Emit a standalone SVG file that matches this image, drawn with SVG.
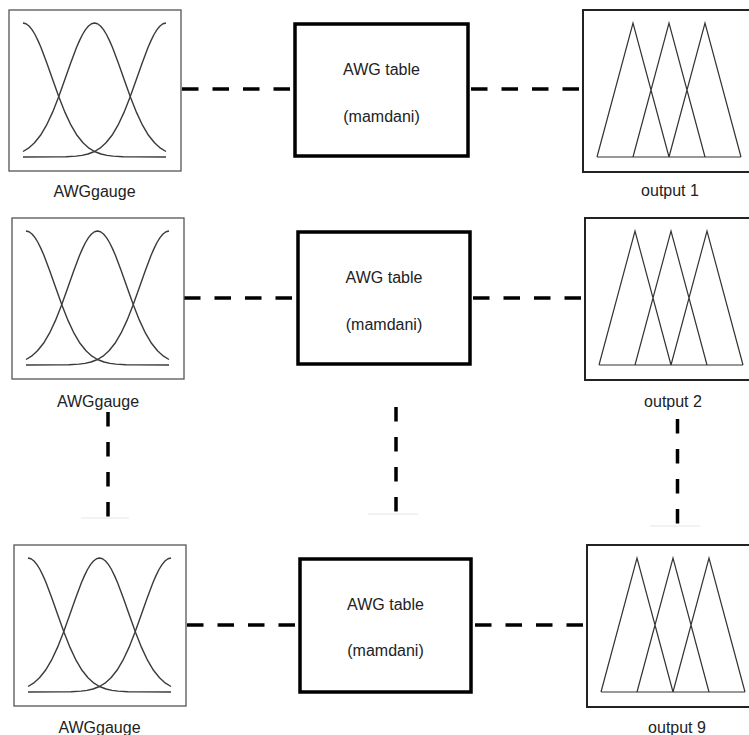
<svg xmlns="http://www.w3.org/2000/svg" xmlns:xlink="http://www.w3.org/1999/xlink" width="749" height="735" viewBox="0 0 749 735">
<style>
.in{fill:#fff;stroke:#555;stroke-width:1.3}
.crv{fill:none;stroke:#3a3a3a;stroke-width:1.4;stroke-linejoin:round}
.rule{fill:#fff;stroke:#000;stroke-width:3.5}
.out{fill:#fff;stroke:#222;stroke-width:2}
.tri{fill:none;stroke:#333;stroke-width:1.2}
.lbl{font-family:"Liberation Sans",Arial,sans-serif;font-size:16px;fill:#222;text-anchor:middle}
.dh{stroke:#000;stroke-width:3.5;fill:none;stroke-dasharray:16.5 14}
.dv{stroke:#000;stroke-width:3.5;fill:none;stroke-dasharray:14.5 15.5}
.faint{stroke:#e6e6e6;stroke-width:1}
</style>
<defs>
<g id="gauss">
<polyline class="crv" points="14,141.5 19.5,138.2 25.5,132.8 31.5,125.3 37.5,115.2 43.5,102.4 49.5,87.3 55.5,70.6 61.5,53.5 67.5,37.5 70.5,30.6 73.5,24.5 76.5,19.6 79.5,16 82.5,13.75 85.5,13 88.5,13.75 91.5,16 94.5,19.6 97.5,24.5 100.5,30.6 103.5,37.5 109.5,53.5 115.5,70.6 121.5,87.3 127.5,102.4 133.5,115.2 139.5,125.3 145.5,132.8 151.5,138.2 157,141.5"/>
<polyline class="crv" points="14,13 17,13.75 20,16 23,19.6 26,24.5 29,30.6 32,37.5 38,53.5 44,70.6 50,87.3 56,102.4 62,115.2 68,125.3 74,132.8 80,138.2 85.5,141.5 92,144 98,145.4 104,146.1 114,146.7 124,146.9 157,147"/>
<polyline class="crv" points="157,13 154,13.75 151,16 148,19.6 145,24.5 142,30.6 139,37.5 133,53.5 127,70.6 121,87.3 115,102.4 109,115.2 103,125.3 97,132.8 91,138.2 85.5,141.5 79,144 73,145.4 67,146.1 57,146.7 47,146.9 14,147"/>
</g>
<path id="tris" class="tri" d="M14,147 H158 M14,147 L50,13 L86,147 M50,147 L86,13 L122,147 M86,147 L122,13 L158,147"/>
</defs>

<g id="connectors">
<line class="dh" x1="182" y1="89" x2="290" y2="89"/>
<line class="dh" x1="471" y1="89" x2="582" y2="89"/>
<line class="dh" x1="184" y1="298" x2="294" y2="298"/>
<line class="dh" x1="473" y1="298" x2="584" y2="298"/>
<line class="dh" x1="187" y1="625" x2="297" y2="625"/>
<line class="dh" x1="475" y1="625" x2="586" y2="625"/>
<line class="dv" x1="108" y1="412" x2="108" y2="519"/>
<line class="dv" x1="396" y1="407" x2="396" y2="514"/>
<line class="dv" x1="677.5" y1="419" x2="677.5" y2="526"/>
<line class="faint" x1="81" y1="518" x2="129" y2="518"/>
<line class="faint" x1="368" y1="514" x2="418" y2="514"/>
<line class="faint" x1="650" y1="526" x2="700" y2="526"/>
</g>

<g id="awggauge-1">
<rect class="in" x="9" y="10" width="172" height="161"/>
<use xlink:href="#gauss" transform="translate(9,10)"/>
<text class="lbl" x="94.5" y="197">AWGgauge</text>
</g>
<g id="awggauge-2">
<rect class="in" x="12" y="218" width="172" height="161"/>
<use xlink:href="#gauss" transform="translate(12,218)"/>
<text class="lbl" x="98" y="407">AWGgauge</text>
</g>
<g id="awggauge-3">
<rect class="in" x="14" y="545" width="172" height="161"/>
<use xlink:href="#gauss" transform="translate(14,545)"/>
<text class="lbl" x="99.5" y="733">AWGgauge</text>
</g>

<g id="awg-table-1">
<rect class="rule" x="295" y="24" width="173" height="132"/>
<text class="lbl" x="381.5" y="75">AWG table</text>
<text class="lbl" x="381.5" y="122">(mamdani)</text>
</g>
<g id="awg-table-2">
<rect class="rule" x="298" y="232" width="172" height="132"/>
<text class="lbl" x="384" y="283">AWG table</text>
<text class="lbl" x="384" y="330">(mamdani)</text>
</g>
<g id="awg-table-3">
<rect class="rule" x="300" y="559" width="171" height="133"/>
<text class="lbl" x="385.5" y="610">AWG table</text>
<text class="lbl" x="385.5" y="656">(mamdani)</text>
</g>

<g id="output-1">
<rect class="out" x="583" y="10" width="200" height="162"/>
<use xlink:href="#tris" transform="translate(583,10)"/>
<text class="lbl" x="670" y="196">output 1</text>
</g>
<g id="output-2">
<rect class="out" x="585" y="218" width="200" height="162"/>
<use xlink:href="#tris" transform="translate(585,218)"/>
<text class="lbl" x="673" y="407">output 2</text>
</g>
<g id="output-9">
<rect class="out" x="587" y="545" width="200" height="162"/>
<use xlink:href="#tris" transform="translate(587,545)"/>
<text class="lbl" x="677" y="733">output 9</text>
</g>
</svg>
